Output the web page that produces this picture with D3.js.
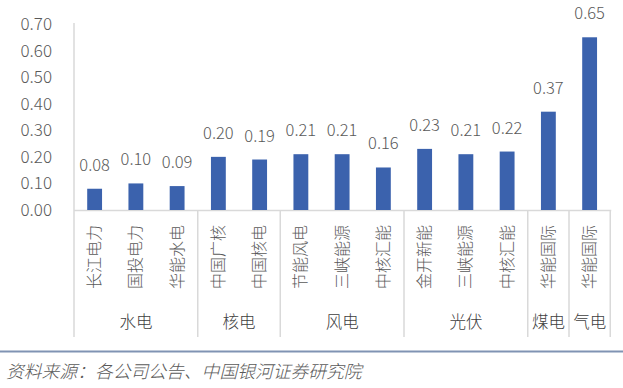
<!DOCTYPE html>
<html><head><meta charset="utf-8">
<script src="https://cdn.jsdelivr.net/npm/d3@7"></script>
<style>
html,body{margin:0;padding:0;background:#fff;}
svg{display:block;font-family:"Noto Sans CJK SC","Noto Sans",sans-serif;font-weight:300;}
</style></head>
<body>
<svg id="chart" width="623" height="388"></svg>
<script>
const companies = ["长江电力","国投电力","华能水电","中国广核","中国核电","节能风电","三峡能源","中核汇能","金开新能","三峡能源","中核汇能","华能国际","华能国际"];
const values = [0.08,0.10,0.09,0.20,0.19,0.21,0.21,0.16,0.23,0.21,0.22,0.37,0.65];
const groups = ["水电","核电","风电","光伏","煤电","气电"];
const groupSizes = [3,2,3,3,1,1];
const yTicks = [0,0.1,0.2,0.3,0.4,0.5,0.6,0.7];
const sourceText = "资料来源：各公司公告、中国银河证券研究院";

const svg = d3.select("#chart");
const x0 = 74, x1 = 610.25, yBase = 210, yTop = 24, yBottom = 337;
const x = d3.scaleBand().domain(d3.range(companies.length)).range([x0, x1]).paddingInner(0.64).paddingOuter(0.32);
const y = d3.scaleLinear().domain([0, 0.7]).range([yBase, yTop]);
const step = (x1 - x0) / companies.length;
const textCol = "#595959", lineCol = "#d9d9d9";

// y axis labels
const yAxis = d3.axisLeft(y).tickValues(yTicks).tickFormat(d3.format(".2f")).tickSize(0).tickPadding(0);
const ga = svg.append("g").attr("transform", "translate(52,0)").call(yAxis);
ga.select(".domain").remove();
ga.selectAll("text").attr("font-size", 17).attr("fill", textCol).attr("font-family", "'Noto Sans CJK SC',sans-serif").attr("font-weight", 300);

// left axis line
svg.append("line").attr("x1", x0).attr("x2", x0).attr("y1", 23).attr("y2", yBottom).attr("stroke", lineCol).attr("stroke-width", 1.5);
// baseline
svg.append("line").attr("x1", x0).attr("x2", x1 + 1).attr("y1", yBase + 0.5).attr("y2", yBase + 0.5).attr("stroke", lineCol).attr("stroke-width", 1.5);

// group separators
let cum = 0;
const bounds = [0];
groupSizes.forEach(s => { cum += s; bounds.push(cum); });
bounds.slice(1).forEach(b => {
  const bx = x0 + b * step;
  svg.append("line").attr("x1", bx).attr("x2", bx).attr("y1", yBase).attr("y2", yBottom).attr("stroke", lineCol).attr("stroke-width", 1.5);
});

// bars
svg.selectAll("rect.bar").data(values).enter().append("rect")
  .attr("class", "bar")
  .attr("x", (d, i) => x(i)).attr("width", x.bandwidth())
  .attr("y", d => y(d)).attr("height", d => yBase - y(d))
  .attr("fill", "#3b62ad");

// value labels
svg.selectAll("text.val").data(values).enter().append("text")
  .attr("class", "val")
  .attr("x", (d, i) => x(i) + x.bandwidth() / 2)
  .attr("y", d => y(d) - 18)
  .attr("text-anchor", "middle")
  .attr("font-size", 16.5).attr("fill", textCol)
  .text(d => d3.format(".2f")(d));

// category labels (rotated)
svg.selectAll("text.cat").data(companies).enter().append("text")
  .attr("class", "cat")
  .attr("transform", (d, i) => `translate(${x(i) + x.bandwidth() / 2},225) rotate(-90)`)
  .attr("text-anchor", "end").attr("dy", "0.35em")
  .attr("font-size", 16).attr("fill", textCol)
  .text(d => d);

// group labels
svg.selectAll("text.grp").data(groups).enter().append("text")
  .attr("class", "grp")
  .attr("x", (d, i) => x0 + (bounds[i] + bounds[i + 1]) / 2 * step)
  .attr("y", 322).attr("dy", "0.35em")
  .attr("text-anchor", "middle")
  .attr("font-size", 16.5).attr("fill", "#404040")
  .text(d => d);

// bottom rule
svg.append("line").attr("x1", 0).attr("x2", 623).attr("y1", 351.5).attr("y2", 351.5).attr("stroke", "#8093b3").attr("stroke-width", 2);

// source
svg.append("text").attr("x", 6).attr("y", 378)
  .attr("font-size", 17.8).attr("font-style", "italic").attr("fill", textCol)
  .text(sourceText);
</script>
</body></html>
